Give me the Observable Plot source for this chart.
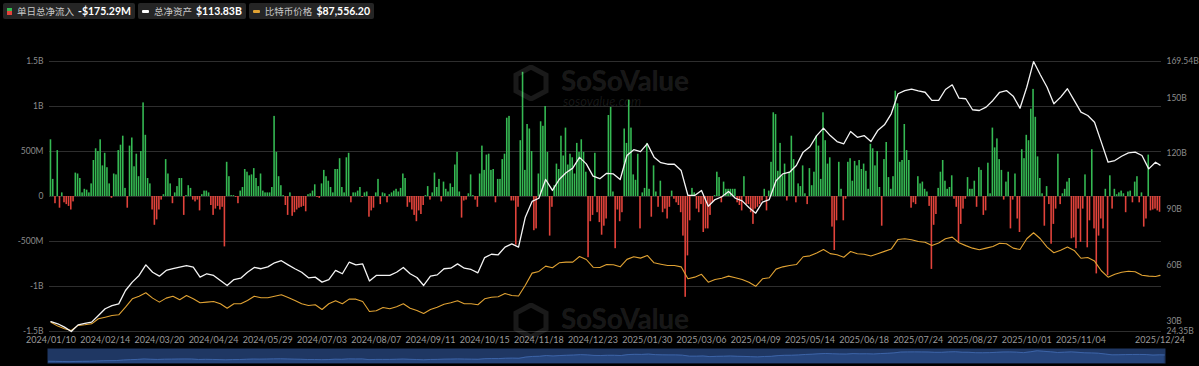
<!DOCTYPE html>
<html><head><meta charset="utf-8">
<script src="https://cdn.jsdelivr.net/npm/d3@7"></script>
<script src="https://cdn.jsdelivr.net/npm/@observablehq/plot@0.6"></script>
<style>
body{margin:0;background:#000;width:1199px;height:366px;overflow:hidden;position:relative;font-family:Lato,"Noto Sans CJK SC",sans-serif}
#legend{position:absolute;left:3px;top:3px;display:flex;gap:3px}
.item{background:#252525;border-radius:2px;height:16px;display:flex;align-items:center;padding:0 4px;font-size:9.5px;color:#c8c8c8;white-space:nowrap;font-family:"Noto Sans CJK SC",sans-serif}
.item b{color:#fff;margin-left:4px;font-weight:700;font-size:10.5px;font-family:Lato,sans-serif}
.ic{display:inline-block;margin-right:5px}
#main{position:absolute;left:0;top:20px}
#nav{position:absolute;left:0;top:346px}
.wm{position:absolute;color:rgba(255,255,255,0.1);font-family:Lato,sans-serif;font-weight:900;white-space:nowrap;pointer-events:none;line-height:1}
</style></head>
<body>
<div id="legend"></div>
<div id="main"></div>
<div id="nav"></div>
<script>
// ---------- DATA ----------
const startDate = "2024-01-10", endDate = "2025-12-24";
const holidays = ["2024-01-15","2024-02-19","2024-03-29","2024-05-27","2024-06-19","2024-07-04","2024-09-02","2024-11-28","2024-12-25","2025-01-01","2025-01-09","2025-01-20","2025-02-17","2025-04-18","2025-05-26","2025-06-19","2025-07-04","2025-09-01","2025-11-27","2025-12-25"];
const xTickLabels = ["2024/01/10","2024/02/14","2024/03/20","2024/04/24","2024/05/29","2024/07/03","2024/08/07","2024/09/11","2024/10/15","2024/11/18","2024/12/23","2025/01/30","2025/03/06","2025/04/09","2025/05/14","2025/06/18","2025/07/24","2025/08/27","2025/10/01","2025/11/04","2025/12/24"];
// daily net inflow, in units of $10M
const flows = [63,19,-8,51,-13,4,-7,-9,-11,-15,-6,
26,25,20,4,8,7,4,
14,40,53,50,63,34,48,32,14,-2,
25,24,51,57,67,9,-13,
56,65,33,47,22,50,104,68,20,14,
-15,-32,-26,-15,-4,2,41,25,14,-8,4,11,20,20,-21,1,12,9,-4,-6,-4,-16,2,6,6,4,
-10,-21,-14,-11,-15,-12,-56,38,22,1,1,-1,-8,
6,10,30,27,23,24,31,20,11,25,6,4,4,4,10,89,49,22,12,1,
-10,-21,4,-22,-18,-15,-13,-12,-11,-17,2,3,6,13,-1,-2,14,29,
22,17,10,4,30,30,42,10,4,43,48,-7,4,4,6,10,-1,4,5,-23,-16,-13,4,19,-9,4,3,-7,
2,4,6,8,5,9,25,20,-12,-7,-15,-21,-28,-16,-20,-10,1,11,-4,4,26,10,19,-6,
16,8,5,14,10,35,49,5,-24,-5,-4,3,24,1,-4,-12,
25,56,29,46,47,29,30,-7,19,19,41,47,87,89,-5,-5,-54,-12,
62,138,29,80,75,50,-38,-36,25,83,78,100,49,-44,-12,
12,36,30,67,45,76,35,47,43,25,59,49,63,49,27,-68,-28,-21,48,-18,-29,-43,-33,-25,
90,99,5,-58,-15,-28,-18,75,59,107,76,24,18,47,-36,4,9,59,8,-23,34,5,-12,17,
-18,-14,-25,-12,6,-3,-7,-10,-18,-44,-112,-66,-27,9,4,
-14,-18,-9,-40,-36,-36,-21,-7,1,27,21,-7,16,8,8,8,8,8,-7,-10,-16,22,
-9,-9,-18,-31,-14,-12,-9,-5,8,-16,6,38,93,91,28,59,23,36,-5,27,67,41,-7,14,11,34,3,-9,
31,12,27,67,56,19,93,62,36,43,-34,-60,-27,38,8,-27,-3,
38,42,17,39,34,40,30,36,28,8,58,53,34,50,10,-33,
41,60,21,8,22,117,103,38,40,80,51,40,-13,-7,-9,22,14,16,8,5,-11,-81,-32,-20,
9,27,40,17,8,10,23,-3,-12,-51,-31,-14,-3,21,8,8,17,-12,32,29,-21,-16,
37,3,76,54,64,41,29,-4,16,27,-36,-4,25,-25,-40,
52,42,68,62,97,119,88,44,20,3,-33,11,-9,-53,-31,-14,47,-9,3,8,16,20,
-47,-46,-58,-14,-51,-14,24,-57,-27,52,-36,-86,-44,-25,-36,8,-88,
23,-14,8,2,4,6,3,-18,5,6,-7,16,22,-7,4,-34,-25,46,-16,-15,-14,-16,-17.5];
// total net assets ($B) and BTC price ($K), every 3rd trading day + last day
const netAssetsB = [29.7,28.5,26.7,24.35,27.9,28.7,29.4,33.0,36.6,38.3,
39.2,46.4,50.9,54.5,60.2,56.2,54.1,57.2,58.1,59.0,
59.8,59.0,53.6,55.4,54.5,51.8,49.1,52.3,53.0,56.2,
58.8,58.1,59.1,61.3,62.4,60.2,58.1,56.2,53.2,53.6,
50.9,52.3,57.2,55.4,61.6,60.2,60.7,51.5,54.5,54.5,
54.5,56.2,58.8,55.4,53.4,49.1,54.1,54.8,58.1,58.4,
60.7,58.4,57.7,55.9,64.1,65.9,65.6,69.7,71.5,69.7,
85.8,94.3,96.0,106.1,100.2,106.1,109.7,112.2,118.0,114.5,
107.9,106.5,109.4,109.1,106.1,119.0,122.1,121.1,125.3,118.1,
115.1,114.3,114.3,110.9,97.5,97.5,100.2,91.7,95.3,96.8,
99.6,96.0,94.6,91.0,88.0,93.9,95.3,105.4,109.1,110.0,
113.6,120.8,123.7,129.7,133.7,129.7,126.5,125.3,131.9,128.8,
129.7,126.5,132.4,135.5,141.4,152.2,153.9,154.7,153.8,153.0,
148.6,148.6,154.5,157.0,149.8,149.5,143.6,143.2,145.0,148.6,
153.0,153.9,150.9,144.4,155.7,169.5,162.4,155.7,146.8,150.4,
154.9,148.6,142.3,140.5,136.9,126.2,115.4,116.3,118.6,120.4,
120.8,119.0,111.8,115.4,113.83];
const btcPriceK = [46.7,43.3,41.0,39.5,43.9,44.5,45.3,49.7,51.1,52.6,
53.2,59.8,67.1,69.4,72.4,67.7,64.2,67.7,69.4,66.3,
70.0,67.1,63.7,64.2,64.8,62.8,58.9,62.8,62.8,65.7,
69.4,68.0,68.0,69.4,70.6,68.3,65.7,62.8,61.3,61.9,
57.8,62.8,65.4,62.8,66.8,66.8,64.8,56.0,56.7,59.6,
58.4,60.2,62.8,58.9,56.9,54.3,57.8,59.8,62.4,63.7,
65.4,62.8,62.8,61.9,67.1,68.5,68.9,71.8,70.0,69.5,
79.0,89.5,91.0,95.6,94.2,98.5,99.1,99.1,104.0,101.4,
94.7,94.4,97.0,96.8,95.0,101.5,103.8,102.6,104.9,98.5,
97.3,96.2,96.2,95.0,84.6,86.0,88.5,81.6,84.0,85.1,
86.9,85.5,84.0,81.5,78.0,84.6,85.5,93.0,95.0,96.2,
97.0,103.8,104.6,107.0,110.1,106.5,105.5,103.4,108.4,106.4,
106.0,104.5,106.5,108.5,110.5,118.9,119.5,118.6,117.1,116.5,
113.6,115.8,119.5,120.9,116.0,113.5,111.3,109.9,111.3,112.8,
115.6,115.1,111.3,110.1,119.5,124.7,119.5,112.2,107.3,109.5,
112.2,109.3,102.5,103.2,100.0,91.6,86.0,88.6,90.3,91.2,
90.7,87.7,86.9,86.6,87.56];
const leftTicks = [-1500,-1000,-500,0,500,1000,1500];
const leftLabels = ["-1.5B","-1B","-500M","0","500M","1B","1.5B"];
const rightTicks = [24.35,30,60,90,120,150,169.54];
const rightLabels = ["24.35B","30B","60B","90B","120B","150B","169.54B"];
const assetDomain = [24.35,169.54];
const priceDomain = [38.6,274.1];
const legendItems = [
  {label:"单日总净流入", value:"-$175.29M", icon:"flow"},
  {label:"总净资产", value:"$113.83B", icon:"#ffffff"},
  {label:"比特币价格", value:"$87,556.20", icon:"#e0a233"}
];
const GREEN = "#35b953", RED = "#e2433b", ORANGE = "#e0a233";

// ---------- BUILD ----------
const hol = new Set(holidays);
const dates = d3.utcDays(new Date(startDate), d3.utcDay.offset(new Date(endDate),1))
  .filter(d => d.getUTCDay()!==0 && d.getUTCDay()!==6 && !hol.has(d3.utcFormat("%Y-%m-%d")(d)))
  .map(d3.utcFormat("%Y/%m/%d"));
const lineIdx = d3.range(0, dates.length-1, 3).concat([dates.length-1]);
const toY = (v, dom) => -1500 + (v-dom[0])/(dom[1]-dom[0])*3000;
const flowData = flows.map((v,i)=>({d:dates[i], v:v*10}));
const lineData = lineIdx.map((i,k)=>({d:dates[i], a:toY(netAssetsB[k],assetDomain), p:toY(btcPriceK[k],priceDomain), raw:netAssetsB[k]}));
const rightMap = new Map(rightTicks.map((t,i)=>[toY(t,assetDomain), rightLabels[i]]));
const leftMap = new Map(leftTicks.map((t,i)=>[t,leftLabels[i]]));

// legend
const lg = document.getElementById("legend");
for (const it of legendItems){
  const el = document.createElement("div"); el.className="item";
  const ic = document.createElement("span"); ic.className="ic";
  if (it.icon==="flow"){ ic.style.cssText="width:5px;height:7px;background:linear-gradient("+GREEN+" 50%,"+RED+" 50%)"; }
  else { ic.style.cssText="width:7px;height:3px;border-radius:1px;background:"+it.icon; }
  el.appendChild(ic);
  el.appendChild(document.createTextNode(it.label));
  const b = document.createElement("b"); b.textContent = it.value; el.appendChild(b);
  lg.appendChild(el);
}

const font = "Lato, 'Noto Sans', sans-serif";
const main = Plot.plot({
  width:1199, height:326, marginLeft:49, marginRight:38, marginTop:41, marginBottom:15,
  style:{background:"transparent", color:"#8c8c8c", fontSize:"8.5px", fontFamily:font},
  x:{type:"band", domain:dates, padding:0.3, axis:null},
  y:{domain:[-1500,1500], axis:null},
  marks:[
    Plot.ruleY(leftTicks, {stroke:"#2e2e2e", strokeWidth:1}),
    Plot.barY(flowData, {x:"d", y:"v", fill:d=>d.v>=0?GREEN:RED}),
    Plot.line(lineData, {x:"d", y:"p", stroke:ORANGE, strokeWidth:1.1}),
    Plot.line(lineData, {x:"d", y:"a", stroke:"#f4f4f4", strokeWidth:1.3}),
    Plot.axisY({anchor:"left", ticks:leftTicks, tickFormat:t=>leftMap.get(t), tickSize:0, tickPadding:6, label:null}),
    Plot.axisY({anchor:"right", ticks:[...rightMap.keys()], tickFormat:t=>rightMap.get(t), tickSize:0, tickPadding:5, label:null}),
    Plot.axisX({ticks:xTickLabels, tickSize:0, tickPadding:5, label:null, fill:"#9a9a9a", fontSize:"9px"})
  ]
});
document.getElementById("main").appendChild(main);

const nav = Plot.plot({
  width:1199, height:20, marginLeft:47, marginRight:34, marginTop:2, marginBottom:3,
  style:{background:"transparent"},
  x:{type:"band", domain:dates, padding:0, axis:null},
  y:{domain:[0,200], axis:null},
  marks:[
    Plot.frame({fill:"#1f3763", stroke:null}),
    Plot.areaY(lineData, {x:"d", y:"raw", fill:"#26457c"}),
    Plot.line(lineData, {x:"d", y:"raw", stroke:"#3c63a6", strokeWidth:1})
  ]
});
document.getElementById("nav").appendChild(nav);

// watermarks
function wm(x,y,sub){
  const d=document.createElement("div"); d.className="wm"; d.style.left=x+"px"; d.style.top=y+"px";
  d.innerHTML='<svg width="36" height="36" viewBox="0 0 36 36" style="position:absolute;left:0;top:0"><path d="M18 2 L33 10 L33 26 L18 34 L3 26 L3 10 Z" fill="none" stroke="rgba(255,255,255,0.1)" stroke-width="5"/></svg>'+
   '<div style="position:absolute;left:48px;top:1px;font-size:28px;letter-spacing:-0.3px">SoSoValue</div>'+
   (sub?'<div style="position:absolute;left:50px;top:30px;font-size:13px;font-weight:400;font-style:italic">sosovalue.com</div>':'');
  document.body.appendChild(d);
}
wm(513,65,true); wm(513,303,false);
if (flows.length!==dates.length || netAssetsB.length!==lineIdx.length || btcPriceK.length!==lineIdx.length){
  const e=document.createElement("div"); e.style.cssText="position:absolute;left:400px;top:150px;color:red;font-size:20px";
  e.textContent="LEN "+flows.length+" "+dates.length+" "+netAssetsB.length+" "+btcPriceK.length+" "+lineIdx.length; document.body.appendChild(e);
}
</script>
</body></html>
